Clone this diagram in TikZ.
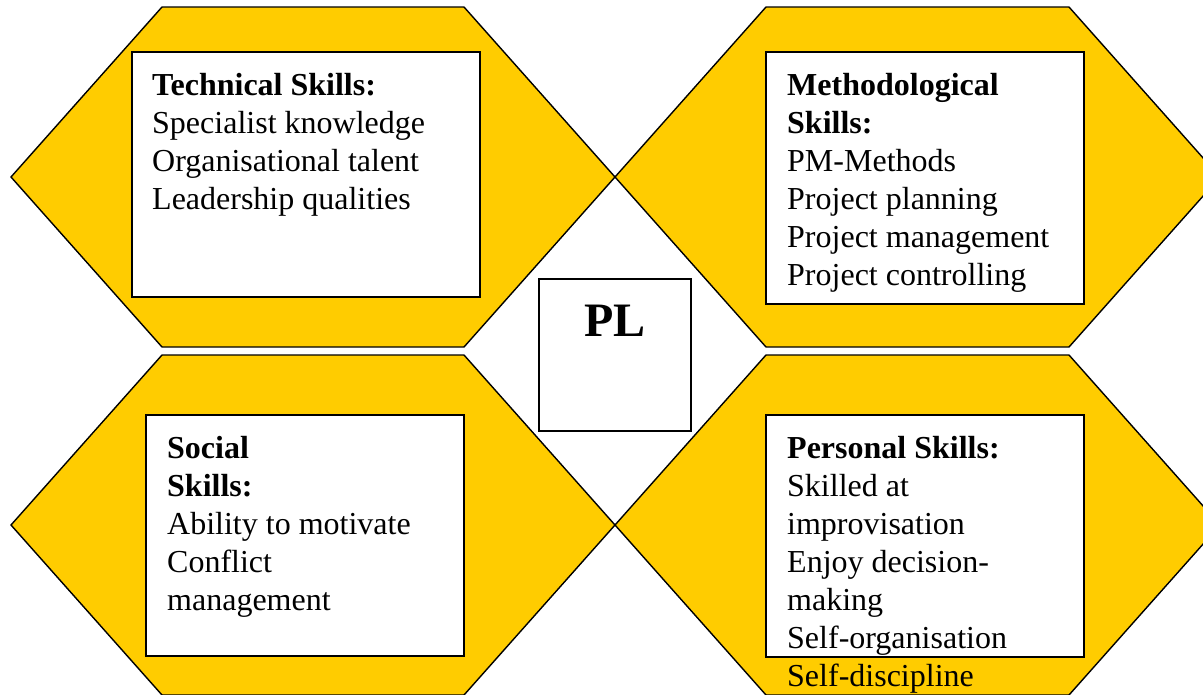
\documentclass[tikz,border=0pt]{standalone}
\usepackage{fontspec}
\setmainfont{Liberation Serif}
\definecolor{hexyellow}{HTML}{FFCC00}
\begin{document}
\begin{tikzpicture}[x=1pt,y=-1pt,
  hexshape/.style={fill=hexyellow,draw=black,line width=1.4pt,line join=miter},
  whitebox/.style={fill=white,draw=black,line width=1.6pt},
  skilltext/.style={anchor=base west,inner sep=0pt,font=\fontsize{32}{38}\selectfont},
  pltext/.style={anchor=base,inner sep=0pt,font=\fontsize{48}{56}\selectfont\bfseries}]
\useasboundingbox (0,0) rectangle (1203,694);
\begin{scope}
\clip (0,0) rectangle (1203,694);
% hexagons
\draw[hexshape] (11,177) -- (162,7) -- (464,7) -- (615,177) -- (464,347) -- (162,347) -- cycle;
\draw[hexshape] (615,177) -- (766,7) -- (1069,7) -- (1220,177) -- (1069,347) -- (766,347) -- cycle;
\draw[hexshape] (11,525) -- (162,355) -- (464,355) -- (615,525) -- (464,695) -- (162,695) -- cycle;
\draw[hexshape] (615,525) -- (766,355) -- (1069,355) -- (1220,525) -- (1069,695) -- (766,695) -- cycle;
\end{scope}
% white boxes
\draw[whitebox] (132,52) rectangle (480,297);
\draw[whitebox] (766,52) rectangle (1084,304);
\draw[whitebox] (146,415) rectangle (464,656);
\draw[whitebox] (766,415) rectangle (1084,657);
\draw[whitebox] (539,279) rectangle (691,431);
% texts
\node[skilltext] (tech) at (152,95) {\begin{tabular}[t]{@{}l@{}}\textbf{Technical Skills:}\\Specialist knowledge\\Organisational talent\\Leadership qualities\end{tabular}};
\node[skilltext] (meth) at (787,95) {\begin{tabular}[t]{@{}l@{}}\textbf{Methodological}\\\textbf{Skills:}\\PM-Methods\\Project planning\\Project management\\Project controlling\end{tabular}};
\node[skilltext] (soc) at (167,458) {\begin{tabular}[t]{@{}l@{}}\textbf{Social}\\\textbf{Skills:}\\Ability to motivate\\Conflict\\management\end{tabular}};
\node[skilltext] (pers) at (787,458) {\begin{tabular}[t]{@{}l@{}}\textbf{Personal Skills:}\\Skilled at\\improvisation\\Enjoy decision-\\making\\Self-organisation\\Self-discipline\end{tabular}};
\node[pltext] (pl) at (615,336) {PL};
\end{tikzpicture}
\end{document}
